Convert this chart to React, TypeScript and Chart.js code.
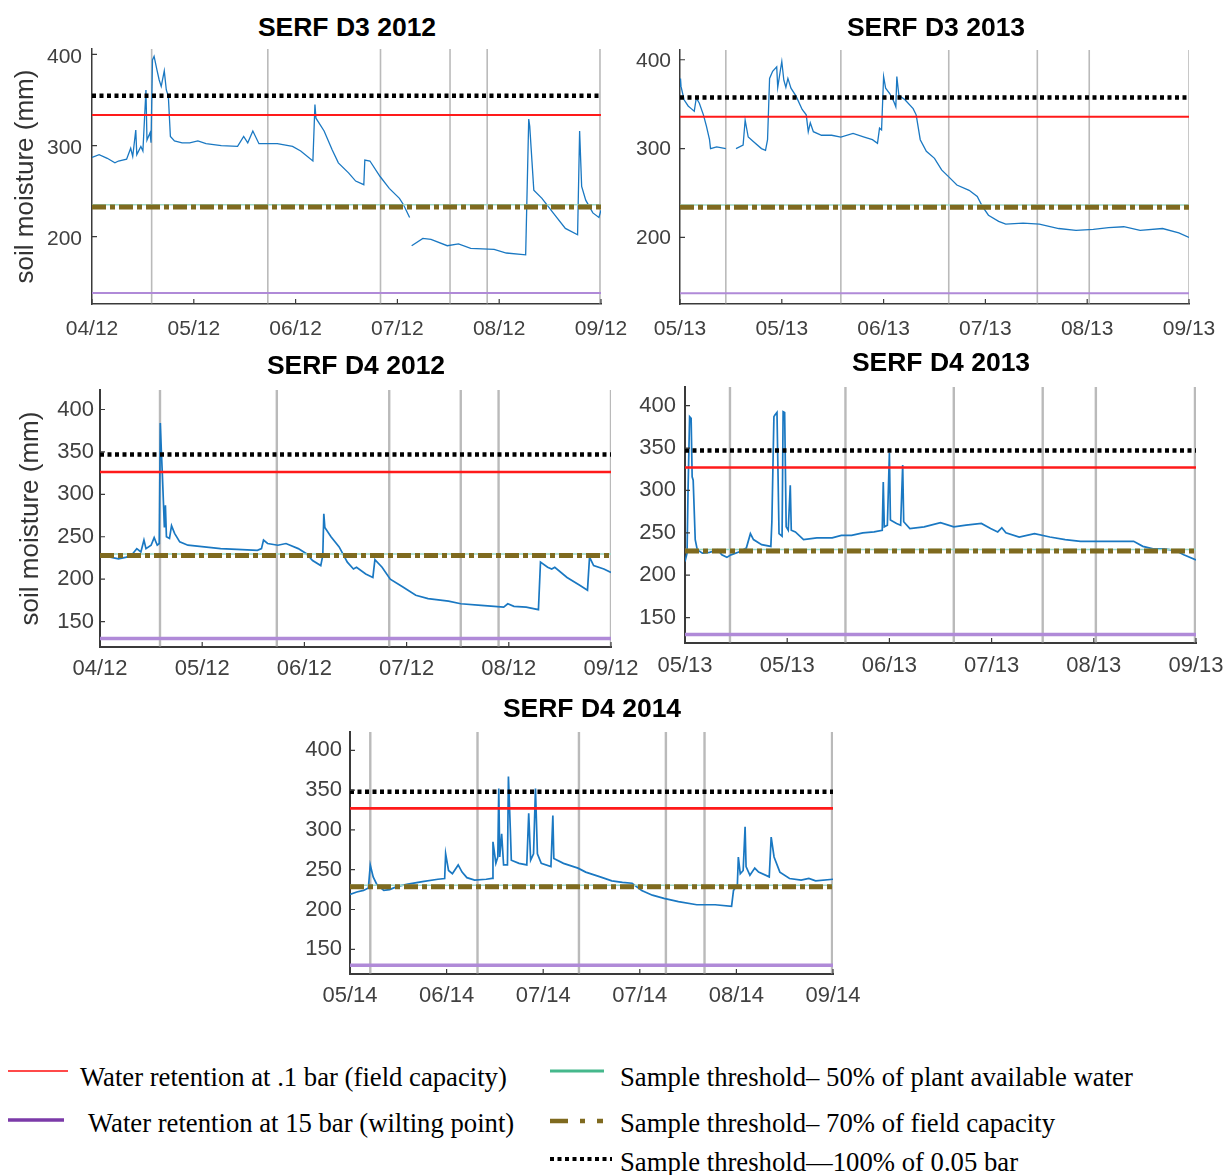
import React, { useEffect, useRef } from "react";
import { Chart, registerables } from "chart.js";

Chart.register(...registerables);

// ---- soil moisture series (x = months since first tick, y = mm) ----
const D3_2012_X = [0, 0.07, 0.15, 0.225, 0.26, 0.34, 0.38, 0.4, 0.43, 0.44, 0.48, 0.5, 0.53, 0.54, 0.57, 0.58, 0.594, 0.61, 0.64, 0.66, 0.68, 0.71, 0.73, 0.75, 0.77, 0.81, 0.885, 0.96, 1.04, 1.12, 1.27, 1.43, 1.49, 1.53, 1.58, 1.64, 1.82, 1.97, 2.05, 2.17, 2.19, 2.2, 2.28, 2.36, 2.42, 2.52, 2.59, 2.67, 2.68, 2.73, 2.83, 2.92, 3.02, 3.06, 3.12, 3.13, 3.14, 3.25, 3.33, 3.49, 3.6, 3.72, 3.95, 4.07, 4.26, 4.29, 4.3, 4.34, 4.42, 4.53, 4.65, 4.77, 4.79, 4.81, 4.85, 4.92, 4.98, 5.0];
const D3_2012_Y = [287, 290, 286, 281, 283, 285, 297, 288, 317, 290, 299, 294, 361, 306, 314, 303, 394, 398, 382, 372, 365, 382, 361, 354, 310, 305, 303, 303, 305, 302, 300, 299, 310, 303, 316, 302, 302, 299, 294, 283, 345, 330, 316, 295, 281, 270, 261, 257, 284, 283, 266, 253, 242, 235, 221, null, 190, 198, 197, 190, 192, 187, 186, 182, 180, 329, 321, 251, 242, 226, 209, 202, 316, 255, 240, 226, 221, 229];

const D3_2013_X = [0, 0.005, 0.01, 0.04, 0.08, 0.11, 0.14, 0.16, 0.19, 0.23, 0.26, 0.29, 0.3, 0.36, 0.45, 0.5, 0.55, 0.62, 0.64, 0.67, 0.72, 0.8, 0.84, 0.86, 0.88, 0.91, 0.95, 0.96, 0.99, 1.0, 1.02, 1.04, 1.06, 1.09, 1.14, 1.2, 1.24, 1.26, 1.28, 1.31, 1.39, 1.49, 1.58, 1.7, 1.81, 1.89, 1.94, 1.96, 1.98, 2.0, 2.02, 2.06, 2.1, 2.12, 2.13, 2.15, 2.21, 2.29, 2.32, 2.36, 2.42, 2.5, 2.57, 2.65, 2.72, 2.84, 2.92, 2.97, 3.03, 3.13, 3.2, 3.37, 3.53, 3.72, 3.89, 4.06, 4.21, 4.36, 4.52, 4.74, 4.9, 5.0];
const D3_2013_Y = [370, 379, 370, 355, 348, 345, 342, 357, 351, 338, 325, 310, 300, 302, 300, null, 300, 304, 332, 313, 308, 300, 298, 310, 379, 387, 392, 369, 391, 398, 377, 369, 379, 368, 359, 344, 338, 319, 329, 319, 315, 315, 313, 317, 313, 310, 306, 323, 321, 381, 368, 362, 353, 347, 381, 360, 355, 345, 338, 310, 297, 289, 276, 267, 259, 253, 246, 235, 225, 218, 215, 216, 215, 210, 208, 209, 211, 212, 208, 210, 205, 200];

const D4_2012_X = [0, 0.1, 0.18, 0.26, 0.32, 0.36, 0.4, 0.43, 0.45, 0.5, 0.53, 0.56, 0.58, 0.59, 0.6, 0.61, 0.63, 0.64, 0.65, 0.68, 0.7, 0.73, 0.78, 0.86, 1.02, 1.18, 1.34, 1.54, 1.58, 1.6, 1.64, 1.74, 1.82, 1.94, 2.02, 2.08, 2.16, 2.18, 2.19, 2.2, 2.26, 2.34, 2.42, 2.48, 2.51, 2.6, 2.67, 2.69, 2.76, 2.84, 2.96, 3.09, 3.21, 3.41, 3.53, 3.73, 3.95, 3.99, 4.05, 4.17, 4.29, 4.31, 4.38, 4.42, 4.45, 4.57, 4.69, 4.77, 4.79, 4.83, 4.93, 5.0];
const D4_2012_Y = [228, 226, 224, 226, 230, 236, 232, 246, 236, 240, 249, 240, 242, 384, 352, 324, 261, 287, 250, 248, 263, 254, 244, 240, 238, 236, 235, 234, 236, 246, 242, 240, 242, 236, 230, 222, 216, 228, 277, 261, 250, 238, 220, 212, 214, 206, 202, 223, 214, 200, 191, 181, 177, 174, 171, 169, 167, 171, 168, 167, 164, 220, 214, 212, 214, 202, 193, 187, 226, 216, 212, 208];

const D4_2013_X = [0, 0.02, 0.03, 0.045, 0.06, 0.07, 0.08, 0.1, 0.12, 0.17, 0.24, 0.32, 0.36, 0.41, 0.45, 0.54, 0.6, 0.64, 0.67, 0.75, 0.84, 0.85, 0.87, 0.88, 0.9, 0.92, 0.94, 0.95, 0.96, 0.975, 0.99, 1.01, 1.03, 1.04, 1.08, 1.16, 1.29, 1.44, 1.53, 1.63, 1.74, 1.85, 1.93, 1.94, 1.95, 1.98, 2.0, 2.01, 2.07, 2.11, 2.13, 2.14, 2.2, 2.34, 2.5, 2.63, 2.75, 2.9, 2.99, 3.06, 3.1, 3.14, 3.27, 3.42, 3.57, 3.72, 3.87, 4.09, 4.24, 4.39, 4.48, 4.58, 4.69, 4.8, 4.88, 5.0];
const D4_2013_Y = [216, 226, 301, 387, 385, 316, 312, 242, 230, 226, 227, 230, 224, 221, 224, 228, 232, 249, 242, 236, 234, 263, 387, 389, 392, 249, 247, 246, 393, 392, 257, 253, 306, 253, 251, 242, 244, 244, 247, 247, 250, 251, 253, 310, 257, 259, 344, 265, 261, 259, 330, 263, 255, 257, 262, 257, 259, 261, 255, 251, 256, 250, 245, 249, 245, 242, 240, 240, 240, 240, 234, 231, 231, 229, 224, 218];

const D4_2014_X = [0, 0.07, 0.14, 0.19, 0.21, 0.24, 0.28, 0.35, 0.41, 0.49, 0.6, 0.75, 0.91, 0.98, 0.99, 1.02, 1.06, 1.12, 1.16, 1.21, 1.29, 1.41, 1.47, 1.48, 1.51, 1.53, 1.54, 1.55, 1.57, 1.59, 1.63, 1.64, 1.66, 1.67, 1.75, 1.83, 1.85, 1.87, 1.9, 1.92, 1.94, 1.98, 2.08, 2.1, 2.11, 2.21, 2.36, 2.44, 2.59, 2.71, 2.82, 2.92, 3.02, 3.13, 3.25, 3.4, 3.59, 3.78, 3.95, 3.97, 4.01, 4.02, 4.04, 4.07, 4.09, 4.1, 4.14, 4.19, 4.23, 4.34, 4.36, 4.39, 4.45, 4.55, 4.67, 4.75, 4.82, 5.0];
const D4_2014_Y = [219, 222, 224, 227, 256, 241, 231, 224, 225, 229, 232, 235, 238, 239, 270, 249, 245, 256, 247, 240, 237, 238, 239, 285, 258, 266, 352, 266, 295, 256, 256, 367, 300, 262, 258, 256, 321, 262, 270, 352, 270, 258, 254, 318, 264, 258, 252, 247, 241, 236, 234, 233, 224, 218, 214, 210, 206, 206, 204, 224, 231, 266, 245, 249, 304, 254, 243, 252, 247, 241, 291, 266, 247, 239, 237, 239, 236, 238];

// ---- sampling dates (vertical markers, months since first tick) ----
const SAMPLES_D3_2012 = [0.586, 1.727, 2.834, 3.517, 3.882, 4.99];
const SAMPLES_D3_2013 = [0.45, 1.58, 2.64, 3.51, 4.02, 5.0];
const SAMPLES_D4_2012 = [0.587, 1.73, 2.83, 3.53, 3.9, 5.0];
const SAMPLES_D4_2013 = [0.44, 1.57, 2.63, 3.5, 4.02, 4.99];
const SAMPLES_D4_2014 = [0.21, 1.32, 2.37, 3.27, 3.67, 4.99];

// ---- thresholds per panel (mm), order: D3 2012, D3 2013, D4 2012, D4 2013, D4 2014 ----
const FIELD_CAPACITY = [333.5, 335.7, 326.4, 327, 327];
const WILTING_POINT = [138, 137, 130, 130, 130];
const BAR_005 = [354.7, 357.5, 347, 347, 348];
const FC_70 = [232.4, 234, 228, 228.6, 228.6];
const PAW_50 = [234.9, 236.6, 229.6, 230.2, 230.4];

// ---- axis ticks ----
const MONTH_TICKS = [0, 1, 2, 3, 4, 5];
const LABELS_2012 = ["04/12", "05/12", "06/12", "07/12", "08/12", "09/12"];
const LABELS_2013 = ["05/13", "05/13", "06/13", "07/13", "08/13", "09/13"];
const LABELS_2014 = ["05/14", "06/14", "07/14", "07/14", "08/14", "09/14"];
const Y_TICKS_D3 = [200, 300, 400];
const Y_TICKS_D4 = [150, 200, 250, 300, 350, 400];

const PANELS = [
  { title: "SERF D3 2012", xs: D3_2012_X, ys: D3_2012_Y, samples: SAMPLES_D3_2012, labels: LABELS_2012, yTicks: Y_TICKS_D3, yMin: 126, yMax: 406,
    L: 92, T: 49, R: 601, B: 304, titleX: 347, titleY: 27, yTitle: true, yTitleX: 26, font: 21, xPad: 13, yPad: 10, yLabelShift: 3, thin: true },
  { title: "SERF D3 2013", xs: D3_2013_X, ys: D3_2013_Y, samples: SAMPLES_D3_2013, labels: LABELS_2013, yTicks: Y_TICKS_D3, yMin: 125, yMax: 411,
    L: 680, T: 50, R: 1189, B: 304, titleX: 936, titleY: 27, yTitle: false, yTitleX: 0, font: 21, xPad: 13, yPad: 9, yLabelShift: 1, thin: true },
  { title: "SERF D4 2012", xs: D4_2012_X, ys: D4_2012_Y, samples: SAMPLES_D4_2012, labels: LABELS_2012, yTicks: Y_TICKS_D4, yMin: 120, yMax: 423,
    L: 100, T: 390, R: 611, B: 647, titleX: 356, titleY: 365, yTitle: true, yTitleX: 31, font: 22, xPad: 9, yPad: 6, yLabelShift: 0, thin: false },
  { title: "SERF D4 2013", xs: D4_2013_X, ys: D4_2013_Y, samples: SAMPLES_D4_2013, labels: LABELS_2013, yTicks: Y_TICKS_D4, yMin: 120, yMax: 422,
    L: 685, T: 387, R: 1196, B: 643, titleX: 941, titleY: 362, yTitle: false, yTitleX: 0, font: 22, xPad: 10, yPad: 9, yLabelShift: 0, thin: false },
  { title: "SERF D4 2014", xs: D4_2014_X, ys: D4_2014_Y, samples: SAMPLES_D4_2014, labels: LABELS_2014, yTicks: Y_TICKS_D4, yMin: 119, yMax: 423,
    L: 350, T: 732, R: 833, B: 974, titleX: 592, titleY: 708, yTitle: false, yTitleX: 0, font: 22, xPad: 9, yPad: 8, yLabelShift: 0, thin: false },
];

const SANS = "'Liberation Sans', Arial, sans-serif";
const SERIF = "'Liberation Serif', 'Times New Roman', serif";
const AXIS_COLOR = "#3a3a3a";
const PAD_TOP = 6;
const PAD_RIGHT = 34;
const X_BAND = 46;

// small inward tick marks on both axes
const innerTicks = {
  id: "innerTicks",
  afterDraw(chart: any) {
    const { ctx, chartArea: a, scales } = chart;
    ctx.save();
    ctx.strokeStyle = AXIS_COLOR;
    ctx.lineWidth = 1.2;
    ctx.beginPath();
    scales.x.ticks.forEach((t: any) => {
      const px = scales.x.getPixelForValue(t.value);
      ctx.moveTo(px, a.bottom);
      ctx.lineTo(px, a.bottom - 5);
    });
    scales.y.ticks.forEach((t: any) => {
      const py = scales.y.getPixelForValue(t.value);
      ctx.moveTo(a.left, py);
      ctx.lineTo(a.left + 5, py);
    });
    ctx.stroke();
    ctx.restore();
  },
};

function hLine(v: number, color: string, width: number, dash: number[] = []) {
  return {
    data: [{ x: 0, y: v }, { x: 5, y: v }],
    borderColor: color,
    borderWidth: width,
    borderDash: dash,
    borderCapStyle: "butt",
    pointRadius: 0,
    clip: 6,
  };
}

function Panel({ p, idx }: { p: any; idx: number }) {
  const ref = useRef<HTMLCanvasElement | null>(null);
  const yw = p.yTitle ? 92 : 70;
  const left = p.L - yw;
  const top = p.T - PAD_TOP;
  const width = p.R - p.L + yw + PAD_RIGHT;
  const height = p.B - p.T + PAD_TOP + X_BAND;

  useEffect(() => {
    if (!ref.current) return;
    const series = p.xs.map((x: number, i: number) => ({ x, y: p.ys[i] }));
    const datasets: any[] = [
      hLine(BAR_005[idx], "#000000", 4.5, [4, 3.5]),
      hLine(FC_70[idx], "#7f6a1f", 5, [14, 4, 5, 4]),
      hLine(PAW_50[idx], "#9ad8c6", 1.5),
      hLine(FIELD_CAPACITY[idx], "#ff1a1a", p.thin ? 2 : 2.6),
      hLine(WILTING_POINT[idx], "#b08ad8", p.thin ? 2 : 3.5),
      {
        data: series,
        borderColor: "#1a78c2",
        borderWidth: p.thin ? 1.3 : 1.7,
        pointRadius: 0,
        spanGaps: false,
        tension: 0,
      },
      ...p.samples.map((s: number) => ({
        data: [{ x: s, y: p.yMin }, { x: s, y: p.yMax }],
        borderColor: "rgba(140,140,140,0.6)",
        borderWidth: p.thin ? 1.6 : 2.4,
        pointRadius: 0,
      })),
    ];
    const tickFont = { family: SANS, size: p.font };
    const chart = new Chart(ref.current, {
      type: "line",
      data: { datasets },
      options: {
        animation: false,
        responsive: false,
        maintainAspectRatio: false,
        events: [],
        layout: { padding: { left: 0, top: PAD_TOP, right: PAD_RIGHT, bottom: 0 } },
        plugins: { legend: { display: false }, tooltip: { enabled: false }, title: { display: false } },
        scales: {
          x: {
            type: "linear",
            min: 0,
            max: 5,
            afterBuildTicks: (s: any) => {
              s.ticks = MONTH_TICKS.map((v) => ({ value: v }));
            },
            ticks: {
              autoSkip: false,
              maxRotation: 0,
              padding: p.xPad,
              color: "#404040",
              font: tickFont,
              callback: (_v: any, i: number) => p.labels[i],
            },
            grid: { display: false, drawTicks: false },
            border: { display: true, color: AXIS_COLOR, width: p.thin ? 1.5 : 2 },
            afterFit: (s: any) => {
              s.height = X_BAND;
              s.paddingLeft = 0;
              s.paddingRight = 0;
            },
          },
          y: {
            type: "linear",
            min: p.yMin,
            max: p.yMax,
            afterBuildTicks: (s: any) => {
              s.ticks = p.yTicks.map((v: number) => ({ value: v }));
            },
            ticks: { padding: p.yPad, color: "#404040", font: tickFont, labelOffset: p.yLabelShift },
            grid: { display: false, drawTicks: false },
            border: { display: true, color: AXIS_COLOR, width: p.thin ? 1.5 : 2 },
            title: {
              display: p.yTitle,
              text: "soil moisture (mm)",
              color: "#333333",
              font: { family: SANS, size: 26 },
              padding: { top: Math.max(0, p.yTitleX - left - 15.6), bottom: 0 },
            },
            afterFit: (s: any) => {
              s.width = yw;
              s.paddingTop = 0;
              s.paddingBottom = 0;
            },
          },
        },
      } as any,
      plugins: [innerTicks],
    });
    return () => chart.destroy();
  }, []);

  return (
    <>
      <canvas
        ref={ref}
        width={width}
        height={height}
        style={{ position: "absolute", left, top, width, height }}
      />
      <div
        style={{
          position: "absolute",
          left: p.titleX - 200,
          top: p.titleY - 16,
          width: 400,
          textAlign: "center",
          font: `bold 26.5px ${SANS}`,
          lineHeight: "32px",
          color: "#000",
        }}
      >
        {p.title}
      </div>
    </>
  );
}

const LEGEND_TEXT_STYLE: React.CSSProperties = {
  position: "absolute",
  font: `26.7px ${SERIF}`,
  lineHeight: "30px",
  color: "#000",
  whiteSpace: "nowrap",
};

function Swatch({ x, y, w, color, width, dash }: { x: number; y: number; w: number; color: string; width: number; dash?: string }) {
  return (
    <svg style={{ position: "absolute", left: x, top: y - 6 }} width={w} height={12}>
      <line x1={0} y1={6} x2={w} y2={6} stroke={color} strokeWidth={width} strokeDasharray={dash} />
    </svg>
  );
}

export default function App() {
  return (
    <div style={{ position: "absolute", left: 0, top: 0, width: 1228, height: 1175, background: "#fff" }}>
      {PANELS.map((p, i) => (
        <Panel key={p.title} p={p} idx={i} />
      ))}
      <Swatch x={8} y={1071} w={60} color="#ff4a4a" width={2} />
      <div style={{ ...LEGEND_TEXT_STYLE, left: 80, top: 1062 }}>Water retention at .1 bar (field capacity)</div>
      <Swatch x={8} y={1120} w={56} color="#7b3aa8" width={3.5} />
      <div style={{ ...LEGEND_TEXT_STYLE, left: 88, top: 1108 }}>Water retention at 15 bar (wilting point)</div>
      <Swatch x={550} y={1071} w={54} color="#45b88c" width={3} />
      <div style={{ ...LEGEND_TEXT_STYLE, left: 620, top: 1062 }}>Sample threshold– 50% of plant available water</div>
      <Swatch x={550} y={1121} w={56} color="#7f6a1f" width={4.5} dash="18 12 5 12 6" />
      <div style={{ ...LEGEND_TEXT_STYLE, left: 620, top: 1108 }}>Sample threshold– 70% of field capacity</div>
      <Swatch x={550} y={1159} w={62} color="#000" width={4} dash="4 3.5" />
      <div style={{ ...LEGEND_TEXT_STYLE, left: 620, top: 1147 }}>Sample threshold—100% of 0.05 bar</div>
    </div>
  );
}
